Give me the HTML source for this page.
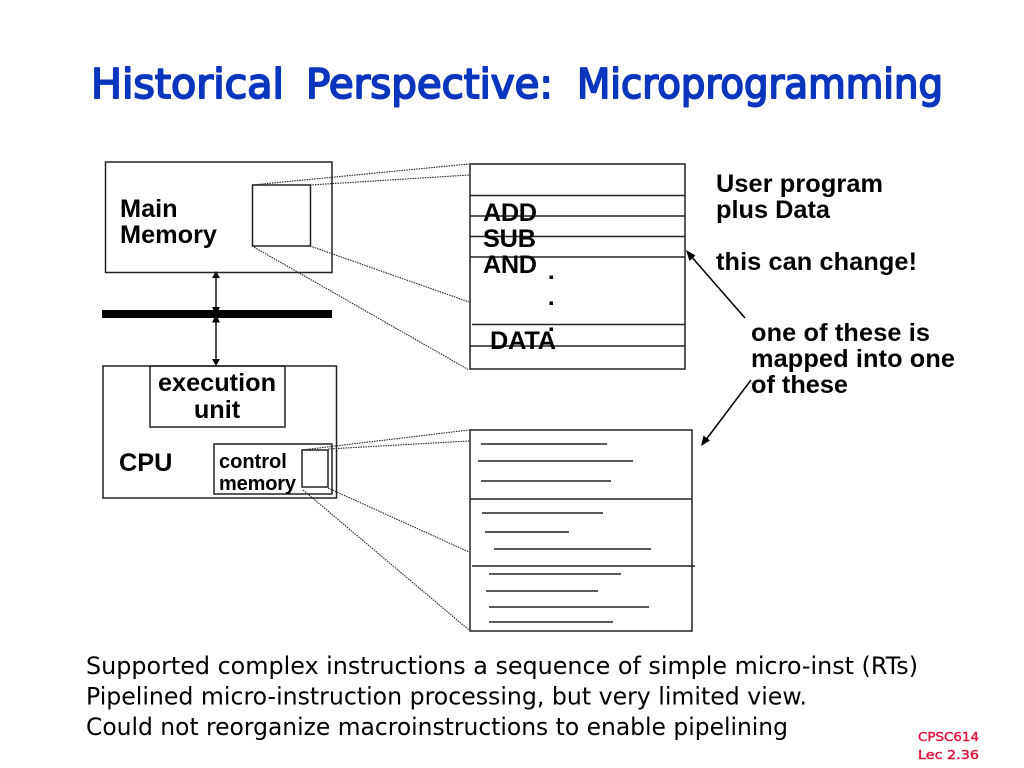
<!DOCTYPE html>
<html><head><meta charset="utf-8"><style>
html,body{margin:0;padding:0;background:#fff;width:1024px;height:768px;overflow:hidden}
svg{display:block}
.b{font-family:"Liberation Sans",sans-serif;font-weight:700;font-size:25.3px;fill:#000}
.c{font-family:"DejaVu Sans",sans-serif;font-size:24px;fill:#000}
.t{font-family:"DejaVu Sans",sans-serif;font-size:41px;fill:#0a35bd;stroke:#0a35bd;stroke-width:1.9;stroke-linejoin:round}
.r{font-family:"DejaVu Sans",sans-serif;font-size:12.5px;fill:#e4103a;stroke:#e4103a;stroke-width:.4}
.l{stroke:#222;stroke-width:1.5;fill:none}
.k{stroke:#111;stroke-width:1.5;fill:none}
.d{stroke:#222;stroke-width:1.1;stroke-dasharray:1.5 1;fill:none}
</style></head><body>
<svg width="1024" height="768" viewBox="0 0 1024 768" xmlns="http://www.w3.org/2000/svg">
<text class="t" x="91" y="98" textLength="193" lengthAdjust="spacingAndGlyphs">Historical</text>
<text class="t" x="306" y="98" textLength="247" lengthAdjust="spacingAndGlyphs">Perspective:</text>
<text class="t" x="577" y="98" textLength="366" lengthAdjust="spacingAndGlyphs">Microprogramming</text>

<rect class="l" x="105.500" y="162" width="226.500" height="110.500"/>
<rect class="l" x="252.500" y="185" width="58" height="61"/>
<rect x="102" y="310" width="230" height="8" fill="#000"/>
<rect class="l" x="103" y="366" width="233.500" height="132"/>
<rect class="l" x="150" y="366" width="135" height="61"/>
<rect class="l" x="214" y="444" width="118" height="50"/>
<rect class="l" x="302" y="450" width="26" height="37"/>

<path class="k" d="M216 276V308M216 322V361"/>
<path fill="#000" d="M216 271l-4 7h8zM216 314.500l-4-7.500h8zM216 314.500l-4 8h8zM216 366l-4-7h8z"/>

<path class="d" d="M252 185L469 164M310 185L469 175M310 246L469 302M252 246L469 370M302 450L469 430M328 449L469 441M328 488L469 552M303 490L469 630"/>

<rect class="l" x="470" y="164" width="215" height="205"/>
<path class="l" d="M470 195.500H685M470 216H685M470 236.500H685M470 257H685M472 324.500H685M470 346H685"/>
<rect x="549.500" y="275.500" width="3.500" height="3.500" fill="#000"/>
<rect x="549.500" y="301.500" width="3.500" height="3.500" fill="#000"/>
<rect x="549.500" y="327.500" width="3.500" height="3.500" fill="#000"/>

<rect class="l" x="470" y="430" width="222" height="201"/>
<path class="l" d="M481 444H607M478 461H633M481 481H611M470 499H692M482 513H603M485 532H569M494 549H651M472 566H695M489 574H621M486 591H598M489 607H649M489 622H613"/>

<path stroke="#000" stroke-width="1.500" fill="none" d="M745 318L690 255M751 380L705 441"/>
<path fill="#000" d="M686 250L695.500 255.500L689.500 261ZM701 446L703.500 435.500L710 440.500Z"/>

<text class="b" x="120" y="217">Main</text>
<text class="b" x="120" y="243" textLength="97">Memory</text>
<text class="b" x="217" y="391" text-anchor="middle">execution</text>
<text class="b" x="217" y="418" text-anchor="middle">unit</text>
<text class="b" x="119" y="471">CPU</text>
<text class="b" x="219" y="468" style="font-size:20px">control</text>
<text class="b" x="219" y="490" style="font-size:20px" textLength="77">memory</text>
<text class="b" x="483" y="221" textLength="54">ADD</text>
<text class="b" x="483" y="247" textLength="53">SUB</text>
<text class="b" x="483" y="273" textLength="54">AND</text>
<text class="b" x="490" y="349" textLength="66">DATA</text>
<text class="b" x="716" y="192" textLength="167">User program</text>
<text class="b" x="716" y="218" textLength="114">plus Data</text>
<text class="b" x="716" y="270" textLength="201">this can change!</text>
<text class="b" x="751" y="341" textLength="179">one of these is</text>
<text class="b" x="751" y="367" textLength="204">mapped into one</text>
<text class="b" x="751" y="393" textLength="97">of these</text>

<text class="c" x="86" y="674" textLength="832" lengthAdjust="spacingAndGlyphs">Supported complex instructions a sequence of simple micro-inst (RTs)</text>
<text class="c" x="86" y="704.500" textLength="721" lengthAdjust="spacingAndGlyphs">Pipelined micro-instruction processing, but very limited view.</text>
<text class="c" x="86" y="735" textLength="702" lengthAdjust="spacingAndGlyphs">Could not reorganize macroinstructions to enable pipelining</text>

<text class="r" x="918" y="741" textLength="61" lengthAdjust="spacingAndGlyphs">CPSC614</text>
<text class="r" x="918" y="759" textLength="61" lengthAdjust="spacingAndGlyphs">Lec 2.36</text>
</svg>
</body></html>
